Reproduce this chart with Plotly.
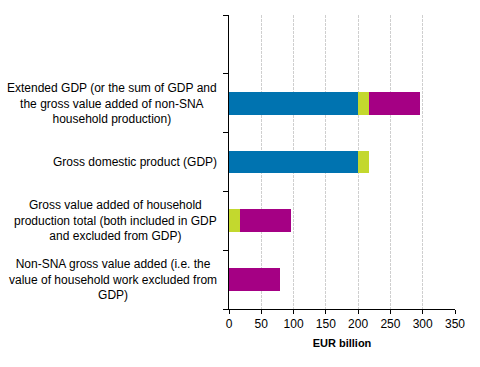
import plotly.graph_objects as go

categories = [
    "Non-SNA gross value added (i.e. the<br>value of household work excluded from<br>GDP)",
    "Gross value added of household<br>production total (both included in GDP<br>and excluded from GDP)",
    "Gross domestic product (GDP)",
    "Extended GDP (or the sum of GDP and<br>the gross value added of non-SNA<br>household production)",
]
series_names = ["Market and non-market production", "Household production included in GDP", "Non-SNA household production"]
market_values = [0, 0, 199.5, 199.5]
household_gdp_values = [0, 16.5, 17, 17]
non_sna_values = [78.5, 79, 0, 79]
x_ticks = [0, 50, 100, 150, 200, 250, 300, 350]
x_title = "EUR billion"

colors = ["#0073B0", "#C3D82E", "#A50084"]
font_family = "Liberation Sans, Arial, sans-serif"

fig = go.Figure()
for name, vals, col in zip(series_names, [market_values, household_gdp_values, non_sna_values], colors):
    fig.add_trace(go.Bar(y=categories, x=vals, name=name, orientation="h",
                         marker=dict(color=col, line=dict(width=0))))

cat_order = categories + [" "]

fig.update_layout(
    barmode="stack",
    bargap=0.61,
    width=480, height=367,
    margin=dict(l=229, r=25, t=15, b=58),
    plot_bgcolor="white", paper_bgcolor="white",
    showlegend=False,
    font=dict(family=font_family, size=11, color="#000000"),
)
fig.update_xaxes(
    range=[0, 350], tickvals=x_ticks, ticktext=[str(t) for t in x_ticks],
    showgrid=True, gridcolor="#cfcfcf", griddash="3px,1px", gridwidth=1,
    showline=True, linecolor="#000000", linewidth=1,
    ticks="outside", ticklen=4, tickcolor="#000000",
    tickfont=dict(size=12, color="#000000"),
    title=dict(text="<b>" + x_title + "</b>", font=dict(size=11), standoff=8),
    zeroline=False,
)
fig.update_yaxes(
    type="category", categoryorder="array", categoryarray=cat_order,
    range=[-0.5, 4.5],
    showticklabels=False, tickson="boundaries",
    ticks="outside", ticklen=5, tickcolor="#000000",
    showline=True, linecolor="#000000", linewidth=1,
    showgrid=False, zeroline=False,
)
for cat in categories:
    fig.add_annotation(x=0, xref="paper", y=cat, yref="y", text=cat,
                       xanchor="right", yanchor="middle", align="center",
                       xshift=-10, showarrow=False,
                       font=dict(size=12, color="#000000"))

fig.write_html("out.html", config={"displayModeBar": False},
               post_script="document.body.style.margin='0';")
